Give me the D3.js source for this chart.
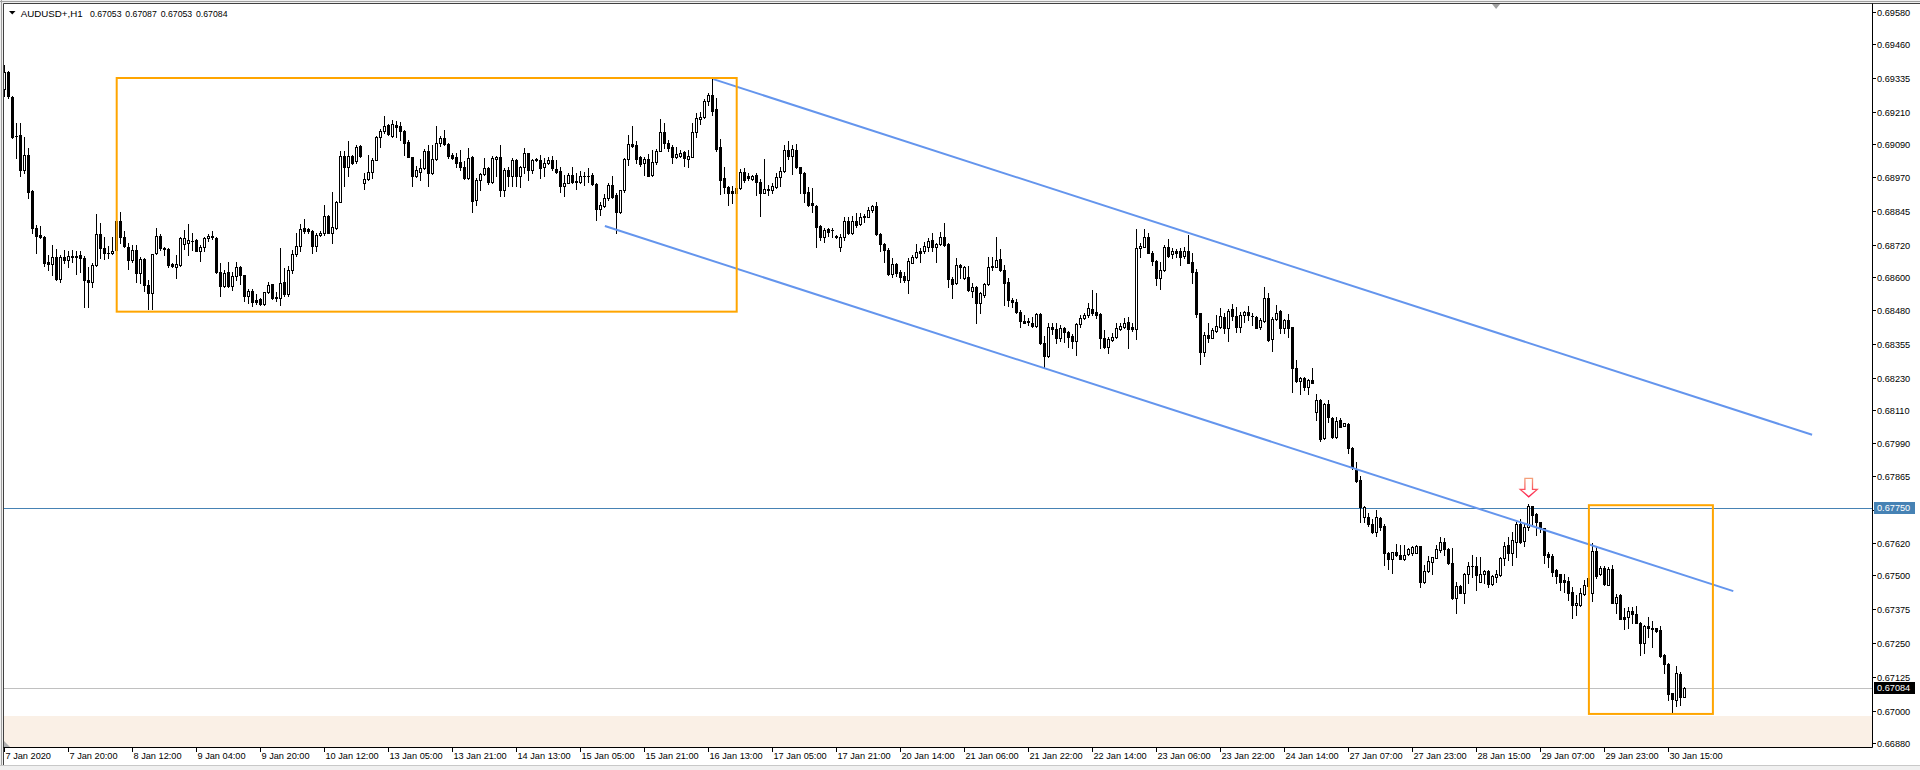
<!DOCTYPE html>
<html><head><meta charset="utf-8">
<script src="https://cdn.jsdelivr.net/npm/d3@7"></script>
<style>
html,body{margin:0;padding:0;background:#fff;overflow:hidden}
svg{display:block;font-family:"Liberation Sans",Arial,sans-serif}
</style></head><body>
<svg id="c" width="1920" height="770"></svg>
<script>
const symbolTitle = "AUDUSD+,H1";
const lastQuote = ["0.67053", "0.67087", "0.67053", "0.67084"];
const timeLabels = ["7 Jan 2020","7 Jan 20:00","8 Jan 12:00","9 Jan 04:00","9 Jan 20:00","10 Jan 12:00","13 Jan 05:00","13 Jan 21:00","14 Jan 13:00","15 Jan 05:00","15 Jan 21:00","16 Jan 13:00","17 Jan 05:00","17 Jan 21:00","20 Jan 14:00","21 Jan 06:00","21 Jan 22:00","22 Jan 14:00","23 Jan 06:00","23 Jan 22:00","24 Jan 14:00","27 Jan 07:00","27 Jan 23:00","28 Jan 15:00","29 Jan 07:00","29 Jan 23:00","30 Jan 15:00"];
const timeLabelStep = 16;
const priceTicks = ["0.69580","0.69460","0.69335","0.69210","0.69090","0.68970","0.68845","0.68720","0.68600","0.68480","0.68355","0.68230","0.68110","0.67990","0.67865","0.67740","0.67620","0.67500","0.67375","0.67250","0.67125","0.67000","0.66880"];

const openP = [
0.69294,0.69357,0.69264,0.69122,0.69125,0.68994,0.69052,0.68919,0.68783,0.68756,
0.68750,0.68657,0.68648,0.68674,0.68593,0.68674,0.68664,0.68679,0.68678,0.68683,
0.68670,0.68590,0.68584,0.68646,0.68759,0.68707,0.68690,0.68688,0.68701,0.68809,
0.68748,0.68711,0.68662,0.68701,0.68617,0.68667,0.68572,0.68541,0.68689,0.68753,
0.68708,0.68705,0.68648,0.68637,0.68646,0.68723,0.68726,0.68735,0.68738,0.68697,
0.68713,0.68744,0.68753,0.68744,0.68621,0.68566,0.68620,0.68569,0.68603,0.68637,
0.68608,0.68529,0.68551,0.68517,0.68519,0.68501,0.68545,0.68574,0.68528,0.68525,
0.68582,0.68539,0.68625,0.68685,0.68716,0.68781,0.68777,0.68771,0.68716,0.68756,
0.68765,0.68826,0.68765,0.68781,0.68879,0.69048,0.69006,0.69048,0.69027,0.69085,
0.68949,0.68962,0.68990,0.69033,0.69117,0.69138,0.69162,0.69122,0.69162,0.69158,
0.69140,0.69098,0.69043,0.68974,0.68990,0.69002,0.69066,0.68984,0.69035,0.69095,
0.69113,0.69091,0.69050,0.69043,0.69024,0.69008,0.68965,0.69045,0.68885,0.68959,
0.68981,0.69002,0.68953,0.69035,0.69045,0.68922,0.68996,0.68972,0.69033,0.68974,
0.69006,0.69058,0.68994,0.69037,0.69033,0.69006,0.69023,0.69033,0.69000,0.68992,
0.68937,0.68949,0.68978,0.68956,0.68953,0.68975,0.68973,0.68978,0.68944,0.68853,
0.68861,0.68892,0.68941,0.68904,0.68839,0.68920,0.69035,0.69091,0.69088,0.69043,
0.69021,0.69037,0.68978,0.69024,0.69067,0.69135,0.69095,0.69079,0.69045,0.69049,
0.69061,0.69038,0.69045,0.69135,0.69184,0.69190,0.69252,0.69273,0.69220,0.69080,
0.68965,0.68932,0.68917,0.68912,0.68928,0.68990,0.68972,0.68964,0.68978,0.68953,
0.68912,0.68925,0.68920,0.68932,0.68969,0.68992,0.69070,0.69049,0.69070,0.69005,
0.68986,0.68916,0.68875,0.68863,0.68789,0.68750,0.68777,0.68776,0.68751,0.68711,
0.68750,0.68808,0.68762,0.68808,0.68795,0.68826,0.68824,0.68848,0.68863,0.68758,
0.68722,0.68701,0.68611,0.68648,0.68620,0.68606,0.68588,0.68654,0.68674,0.68695,
0.68695,0.68713,0.68738,0.68711,0.68723,0.68747,0.68723,0.68592,0.68578,0.68645,
0.68596,0.68602,0.68551,0.68565,0.68504,0.68535,0.68575,0.68642,0.68639,0.68666,
0.68627,0.68584,0.68516,0.68510,0.68473,0.68439,0.68437,0.68433,0.68420,0.68465,
0.68356,0.68310,0.68418,0.68408,0.68377,0.68414,0.68399,0.68383,0.68366,0.68426,
0.68449,0.68461,0.68482,0.68471,0.68463,0.68375,0.68342,0.68369,0.68378,0.68409,
0.68418,0.68436,0.68415,0.68408,0.68707,0.68713,0.68747,0.68691,0.68661,0.68596,
0.68627,0.68711,0.68685,0.68698,0.68695,0.68680,0.68697,0.68658,0.68618,0.68467,
0.68326,0.68387,0.68377,0.68403,0.68415,0.68455,0.68412,0.68483,0.68457,0.68418,
0.68460,0.68473,0.68458,0.68455,0.68415,0.68440,0.68522,0.68371,0.68445,0.68476,
0.68412,0.68442,0.68415,0.68264,0.68219,0.68227,0.68196,0.68221,0.68104,0.68147,
0.68006,0.68132,0.68080,0.68009,0.68073,0.68052,0.68059,0.67969,0.67889,0.67852,
0.67717,0.67717,0.67690,0.67661,0.67711,0.67684,0.67581,0.67561,0.67588,0.67575,
0.67561,0.67578,0.67581,0.67584,0.67608,0.67474,0.67516,0.67551,0.67565,0.67594,
0.67624,0.67597,0.67547,0.67415,0.67461,0.67436,0.67505,0.67536,0.67535,0.67477,
0.67505,0.67517,0.67468,0.67495,0.67501,0.67563,0.67612,0.67584,0.67624,0.67690,
0.67627,0.67680,0.67756,0.67727,0.67698,0.67674,0.67579,0.67572,0.67520,0.67505,
0.67483,0.67479,0.67437,0.67391,0.67391,0.67431,0.67462,0.67434,0.67591,0.67504,
0.67529,0.67464,0.67522,0.67399,0.67428,0.67345,0.67345,0.67369,0.67356,0.67326,
0.67249,0.67313,0.67306,0.67305,0.67298,0.67205,0.67175,0.67065,0.67040,0.67136,
0.67053];

const highP = [
0.69384,0.69359,0.69267,0.69168,0.69168,0.69117,0.69076,0.68922,0.68793,0.68790,
0.68753,0.68683,0.68719,0.68703,0.68683,0.68701,0.68695,0.68701,0.68695,0.68697,
0.68680,0.68637,0.68652,0.68834,0.68799,0.68750,0.68716,0.68748,0.68812,0.68840,
0.68769,0.68726,0.68719,0.68719,0.68676,0.68670,0.68590,0.68686,0.68783,0.68760,
0.68713,0.68707,0.68652,0.68683,0.68750,0.68775,0.68797,0.68763,0.68740,0.68719,
0.68748,0.68760,0.68769,0.68747,0.68652,0.68625,0.68658,0.68621,0.68658,0.68642,
0.68610,0.68556,0.68556,0.68537,0.68523,0.68547,0.68582,0.68576,0.68545,0.68707,
0.68633,0.68640,0.68701,0.68763,0.68797,0.68814,0.68781,0.68775,0.68765,0.68769,
0.68867,0.68829,0.68916,0.68883,0.69064,0.69064,0.69101,0.69052,0.69088,0.69088,
0.68984,0.69052,0.69039,0.69122,0.69146,0.69193,0.69166,0.69181,0.69175,0.69174,
0.69144,0.69107,0.69045,0.69011,0.69035,0.69072,0.69088,0.69087,0.69158,0.69122,
0.69144,0.69095,0.69058,0.69058,0.69070,0.69027,0.69076,0.69048,0.68965,0.68986,
0.69039,0.69008,0.69048,0.69048,0.69088,0.69002,0.69008,0.69039,0.69035,0.69011,
0.69076,0.69060,0.69035,0.69040,0.69052,0.69039,0.69045,0.69048,0.69033,0.69008,
0.68978,0.68984,0.69008,0.68984,0.68992,0.68990,0.69002,0.68984,0.68949,0.68879,
0.68907,0.68949,0.68974,0.68910,0.68922,0.69039,0.69125,0.69158,0.69101,0.69048,
0.69045,0.69055,0.69070,0.69072,0.69183,0.69168,0.69107,0.69088,0.69080,0.69070,
0.69064,0.69070,0.69168,0.69205,0.69208,0.69257,0.69279,0.69331,0.69261,0.69109,
0.69008,0.68935,0.68935,0.68935,0.68999,0.69002,0.68986,0.68978,0.68984,0.68962,
0.69038,0.68941,0.68947,0.68986,0.69008,0.69088,0.69103,0.69088,0.69092,0.69008,
0.68990,0.68932,0.68928,0.68866,0.68793,0.68781,0.68781,0.68781,0.68755,0.68760,
0.68821,0.68821,0.68826,0.68836,0.68836,0.68832,0.68858,0.68867,0.68879,0.68762,
0.68725,0.68707,0.68670,0.68654,0.68627,0.68621,0.68670,0.68682,0.68723,0.68707,
0.68731,0.68744,0.68762,0.68728,0.68768,0.68799,0.68725,0.68602,0.68670,0.68648,
0.68642,0.68642,0.68578,0.68568,0.68547,0.68578,0.68676,0.68676,0.68747,0.68703,
0.68645,0.68596,0.68522,0.68519,0.68479,0.68461,0.68449,0.68455,0.68469,0.68469,
0.68383,0.68433,0.68433,0.68433,0.68424,0.68418,0.68403,0.68391,0.68433,0.68461,
0.68467,0.68506,0.68553,0.68541,0.68467,0.68405,0.68381,0.68393,0.68433,0.68433,
0.68449,0.68455,0.68430,0.68777,0.68725,0.68777,0.68762,0.68695,0.68664,0.68658,
0.68719,0.68740,0.68707,0.68703,0.68707,0.68713,0.68756,0.68691,0.68629,0.68469,
0.68399,0.68430,0.68412,0.68460,0.68485,0.68469,0.68482,0.68501,0.68489,0.68473,
0.68476,0.68494,0.68469,0.68457,0.68449,0.68563,0.68543,0.68452,0.68498,0.68479,
0.68445,0.68465,0.68418,0.68295,0.68233,0.68231,0.68223,0.68264,0.68168,0.68150,
0.68135,0.68147,0.68086,0.68083,0.68080,0.68064,0.68061,0.67973,0.67920,0.67867,
0.67756,0.67731,0.67707,0.67741,0.67717,0.67690,0.67588,0.67588,0.67616,0.67612,
0.67612,0.67600,0.67608,0.67612,0.67608,0.67538,0.67572,0.67569,0.67612,0.67643,
0.67637,0.67600,0.67600,0.67477,0.67464,0.67510,0.67551,0.67575,0.67569,0.67567,
0.67520,0.67520,0.67501,0.67520,0.67569,0.67624,0.67640,0.67661,0.67698,0.67707,
0.67690,0.67763,0.67756,0.67731,0.67698,0.67674,0.67588,0.67579,0.67522,0.67505,
0.67505,0.67495,0.67458,0.67428,0.67452,0.67483,0.67508,0.67618,0.67606,0.67535,
0.67535,0.67532,0.67538,0.67430,0.67431,0.67378,0.67382,0.67382,0.67387,0.67329,
0.67317,0.67345,0.67333,0.67305,0.67313,0.67210,0.67178,0.67065,0.67166,0.67145,
0.67087];

const lowP = [
0.69267,0.69261,0.69113,0.69039,0.68972,0.68984,0.68892,0.68765,0.68691,0.68744,
0.68640,0.68627,0.68609,0.68590,0.68582,0.68652,0.68637,0.68656,0.68612,0.68621,
0.68492,0.68492,0.68563,0.68642,0.68670,0.68667,0.68670,0.68685,0.68695,0.68726,
0.68711,0.68631,0.68658,0.68582,0.68578,0.68551,0.68482,0.68482,0.68686,0.68699,
0.68683,0.68637,0.68637,0.68596,0.68642,0.68703,0.68683,0.68701,0.68695,0.68660,
0.68695,0.68735,0.68742,0.68617,0.68531,0.68563,0.68563,0.68553,0.68590,0.68574,
0.68514,0.68504,0.68494,0.68502,0.68498,0.68498,0.68541,0.68519,0.68514,0.68498,
0.68529,0.68529,0.68617,0.68679,0.68695,0.68763,0.68763,0.68691,0.68695,0.68753,
0.68756,0.68763,0.68726,0.68779,0.68876,0.68937,0.68972,0.69018,0.69021,0.69045,
0.68925,0.68957,0.68965,0.69031,0.69082,0.69132,0.69125,0.69119,0.69119,0.69107,
0.69051,0.69042,0.68937,0.68969,0.68959,0.68999,0.68937,0.68981,0.69033,0.69085,
0.69088,0.69039,0.69035,0.69008,0.68996,0.68964,0.68962,0.68842,0.68867,0.68922,
0.68978,0.68944,0.68949,0.68972,0.68898,0.68898,0.68935,0.68937,0.68935,0.68932,
0.68984,0.68959,0.68986,0.69028,0.68965,0.68974,0.69018,0.68996,0.68984,0.68916,
0.68900,0.68947,0.68947,0.68925,0.68949,0.68941,0.68953,0.68941,0.68812,0.68830,
0.68858,0.68885,0.68892,0.68765,0.68836,0.68916,0.69015,0.69082,0.69021,0.69011,
0.68978,0.68972,0.68974,0.69018,0.69066,0.69076,0.69064,0.69021,0.69039,0.69045,
0.69011,0.69008,0.69043,0.69119,0.69166,0.69187,0.69236,0.69199,0.69067,0.68908,
0.68912,0.68867,0.68873,0.68910,0.68925,0.68953,0.68959,0.68959,0.68904,0.68826,
0.68910,0.68904,0.68910,0.68928,0.68937,0.68990,0.69035,0.68980,0.69002,0.68912,
0.68879,0.68863,0.68842,0.68713,0.68738,0.68731,0.68752,0.68750,0.68745,0.68695,
0.68738,0.68760,0.68760,0.68787,0.68793,0.68805,0.68821,0.68842,0.68756,0.68695,
0.68658,0.68608,0.68602,0.68605,0.68584,0.68584,0.68541,0.68651,0.68670,0.68658,
0.68691,0.68698,0.68695,0.68658,0.68719,0.68715,0.68565,0.68522,0.68575,0.68596,
0.68592,0.68551,0.68528,0.68430,0.68469,0.68528,0.68572,0.68627,0.68637,0.68624,
0.68498,0.68494,0.68489,0.68467,0.68418,0.68430,0.68424,0.68418,0.68418,0.68354,
0.68268,0.68305,0.68391,0.68356,0.68366,0.68362,0.68342,0.68338,0.68313,0.68418,
0.68445,0.68452,0.68461,0.68449,0.68338,0.68338,0.68319,0.68366,0.68375,0.68405,
0.68412,0.68338,0.68403,0.68371,0.68676,0.68711,0.68688,0.68645,0.68572,0.68556,
0.68624,0.68676,0.68670,0.68676,0.68645,0.68670,0.68651,0.68580,0.68455,0.68280,
0.68310,0.68362,0.68375,0.68399,0.68412,0.68396,0.68366,0.68442,0.68399,0.68399,
0.68436,0.68442,0.68424,0.68412,0.68408,0.68436,0.68366,0.68329,0.68442,0.68393,
0.68396,0.68381,0.68178,0.68215,0.68168,0.68184,0.68168,0.68209,0.68073,0.67997,
0.68002,0.68067,0.68006,0.68006,0.68046,0.68051,0.67950,0.67891,0.67846,0.67698,
0.67698,0.67682,0.67658,0.67647,0.67668,0.67538,0.67522,0.67508,0.67572,0.67559,
0.67557,0.67575,0.67575,0.67581,0.67458,0.67471,0.67514,0.67505,0.67563,0.67587,
0.67575,0.67542,0.67412,0.67360,0.67434,0.67397,0.67471,0.67495,0.67446,0.67476,
0.67473,0.67458,0.67464,0.67477,0.67499,0.67538,0.67557,0.67538,0.67569,0.67621,
0.67608,0.67667,0.67686,0.67649,0.67661,0.67544,0.67532,0.67498,0.67471,0.67446,
0.67440,0.67409,0.67342,0.67354,0.67387,0.67428,0.67456,0.67407,0.67489,0.67501,
0.67464,0.67463,0.67397,0.67362,0.67338,0.67301,0.67305,0.67323,0.67323,0.67206,
0.67215,0.67274,0.67237,0.67292,0.67200,0.67141,0.67040,0.66993,0.67018,0.67022,
0.67053];

const closeP = [
0.69357,0.69267,0.69117,0.69120,0.68994,0.69052,0.68916,0.68783,0.68753,0.68750,
0.68654,0.68648,0.68674,0.68593,0.68674,0.68662,0.68679,0.68674,0.68675,0.68670,
0.68588,0.68582,0.68646,0.68759,0.68707,0.68688,0.68688,0.68697,0.68809,0.68748,
0.68716,0.68662,0.68701,0.68617,0.68667,0.68572,0.68541,0.68685,0.68753,0.68707,
0.68706,0.68646,0.68640,0.68648,0.68744,0.68744,0.68738,0.68733,0.68697,0.68713,
0.68744,0.68753,0.68747,0.68621,0.68566,0.68617,0.68569,0.68603,0.68637,0.68608,
0.68529,0.68551,0.68507,0.68510,0.68501,0.68545,0.68571,0.68525,0.68525,0.68578,
0.68539,0.68625,0.68685,0.68716,0.68777,0.68769,0.68769,0.68716,0.68756,0.68765,
0.68826,0.68765,0.68785,0.68879,0.69048,0.69006,0.69048,0.69021,0.69082,0.69048,
0.68962,0.68990,0.69033,0.69117,0.69141,0.69159,0.69128,0.69166,0.69154,0.69138,
0.69097,0.69043,0.68974,0.68996,0.69002,0.69066,0.68986,0.69035,0.69095,0.69113,
0.69091,0.69048,0.69039,0.69021,0.69006,0.68965,0.69039,0.68883,0.68957,0.68980,
0.69002,0.68953,0.69039,0.69045,0.68920,0.68996,0.68972,0.69031,0.68974,0.69008,
0.69058,0.68994,0.69033,0.69034,0.69002,0.69023,0.69033,0.69002,0.68990,0.68937,
0.68947,0.68978,0.68953,0.68951,0.68975,0.68973,0.68975,0.68943,0.68853,0.68866,
0.68894,0.68941,0.68895,0.68839,0.68920,0.69037,0.69091,0.69085,0.69037,0.69018,
0.69035,0.68974,0.69024,0.69067,0.69135,0.69095,0.69075,0.69045,0.69055,0.69058,
0.69039,0.69048,0.69135,0.69187,0.69190,0.69252,0.69273,0.69215,0.69074,0.68959,
0.68932,0.68912,0.68910,0.68928,0.68989,0.68959,0.68965,0.68975,0.68953,0.68912,
0.68925,0.68920,0.68935,0.68971,0.68992,0.69070,0.69049,0.69072,0.69006,0.68984,
0.68912,0.68867,0.68867,0.68787,0.68750,0.68774,0.68768,0.68773,0.68749,0.68750,
0.68808,0.68762,0.68808,0.68793,0.68824,0.68821,0.68848,0.68863,0.68758,0.68722,
0.68701,0.68611,0.68648,0.68617,0.68602,0.68590,0.68660,0.68676,0.68692,0.68691,
0.68715,0.68734,0.68711,0.68723,0.68747,0.68719,0.68592,0.68575,0.68645,0.68637,
0.68637,0.68553,0.68563,0.68504,0.68541,0.68575,0.68639,0.68637,0.68664,0.68627,
0.68580,0.68516,0.68508,0.68471,0.68439,0.68433,0.68434,0.68420,0.68465,0.68356,
0.68310,0.68418,0.68408,0.68375,0.68412,0.68397,0.68378,0.68366,0.68426,0.68449,
0.68461,0.68485,0.68467,0.68461,0.68375,0.68342,0.68371,0.68381,0.68412,0.68420,
0.68430,0.68408,0.68408,0.68707,0.68715,0.68747,0.68691,0.68661,0.68596,0.68627,
0.68713,0.68679,0.68697,0.68688,0.68676,0.68697,0.68654,0.68618,0.68463,0.68326,
0.68387,0.68377,0.68405,0.68420,0.68457,0.68412,0.68477,0.68457,0.68418,0.68461,
0.68473,0.68460,0.68456,0.68414,0.68442,0.68522,0.68369,0.68445,0.68469,0.68412,
0.68442,0.68412,0.68264,0.68219,0.68227,0.68194,0.68221,0.68211,0.68147,0.68002,
0.68132,0.68083,0.68009,0.68070,0.68049,0.68061,0.67969,0.67899,0.67850,0.67754,
0.67751,0.67690,0.67661,0.67717,0.67680,0.67581,0.67561,0.67585,0.67575,0.67561,
0.67575,0.67596,0.67606,0.67608,0.67474,0.67516,0.67553,0.67567,0.67596,0.67624,
0.67597,0.67544,0.67415,0.67461,0.67436,0.67505,0.67535,0.67533,0.67501,0.67505,
0.67517,0.67468,0.67498,0.67505,0.67565,0.67608,0.67584,0.67631,0.67690,0.67624,
0.67680,0.67756,0.67723,0.67698,0.67674,0.67575,0.67569,0.67514,0.67499,0.67477,
0.67477,0.67434,0.67391,0.67399,0.67434,0.67464,0.67489,0.67591,0.67498,0.67529,
0.67468,0.67522,0.67399,0.67421,0.67339,0.67339,0.67369,0.67356,0.67326,0.67249,
0.67313,0.67305,0.67303,0.67296,0.67203,0.67175,0.67061,0.67043,0.67139,0.67050,
0.67084];

// drawn objects (bar index, price)
const channelUpper = [[177.2, 0.69331], [451.9, 0.68019]];
const channelLower = [[150.1, 0.68789], [432.2, 0.67442]];
const boxA = [[28.05, 0.69335], [183.05, 0.68473]];
const boxB = [[396.1, 0.67759], [427.1, 0.66989]];
const levelPrice = [0.67750];
const bidPrice = [0.67084];
const bandTopPrice = [0.66981];
const arrowPoint = [381.05, 0.67790];
const shiftMarkerBar = [372.9];

const svg = d3.select("#c");
const W = 1920, H = 770;
const plot = {l: 4, t: 4, r: 1872, b: 747};

const x = d3.scaleLinear().domain([0, 420]).range([4.5, 1684.5]);
const y = d3.scaleLinear().domain([0.66867, 0.69608]).range([plot.b, plot.t]);

// window background / frame
svg.append("rect").attr("x",0).attr("y",0).attr("width",W).attr("height",H).attr("fill","#f0f0f0");
svg.append("rect").attr("x",plot.l).attr("y",plot.t).attr("width",W-plot.l).attr("height",766-plot.t).attr("fill","#ffffff");
svg.append("line").attr("x1",0).attr("x2",W).attr("y1",1.5).attr("y2",1.5).attr("stroke","#a0a0a0");
svg.append("line").attr("x1",1.5).attr("x2",1.5).attr("y1",0).attr("y2",H).attr("stroke","#a0a0a0");
svg.append("line").attr("x1",plot.l-0.5).attr("x2",W).attr("y1",plot.t-0.5).attr("y2",plot.t-0.5).attr("stroke","#404040");
svg.append("line").attr("x1",plot.l-0.5).attr("x2",plot.l-0.5).attr("y1",plot.t-0.5).attr("y2",766).attr("stroke","#404040");

const defs = svg.append("defs");
defs.append("clipPath").attr("id","plotclip").append("rect")
  .attr("x",plot.l).attr("y",plot.t).attr("width",plot.r-plot.l).attr("height",plot.b-plot.t);
const g = svg.append("g").attr("clip-path","url(#plotclip)");

// linen band
const bandY = Math.round(y(bandTopPrice[0]));
g.append("rect").attr("x",plot.l).attr("y",bandY).attr("width",plot.r-plot.l).attr("height",plot.b-bandY).attr("fill","#faf0e6");

// horizontal lines
g.append("line").attr("x1",plot.l).attr("x2",plot.r)
  .attr("y1",Math.round(y(levelPrice[0]))+0.5).attr("y2",Math.round(y(levelPrice[0]))+0.5)
  .attr("stroke","#4682b4").attr("stroke-width",1);
g.append("line").attr("x1",plot.l).attr("x2",plot.r)
  .attr("y1",Math.round(y(bidPrice[0]))+0.5).attr("y2",Math.round(y(bidPrice[0]))+0.5)
  .attr("stroke","#c0c0c0").attr("stroke-width",1);

// candles
const idx = d3.range(openP.length);
const cg = g.append("g").attr("shape-rendering","crispEdges");
idx.forEach(i => {
  const o = openP[i], c = closeP[i];
  const hi = Math.max(highP[i], o, c), lo = Math.min(lowP[i], o, c);
  const cx = Math.floor(x(i));
  const yH = Math.round(y(hi)), yL = Math.round(y(lo));
  const yT = Math.round(y(Math.max(o, c))), yB = Math.round(y(Math.min(o, c)));
  cg.append("rect").attr("x",cx).attr("y",yH).attr("width",1).attr("height",yL-yH+1).attr("fill","#000");
  cg.append("rect").attr("x",cx-1).attr("y",yT).attr("width",3).attr("height",yB-yT+1).attr("fill","#000");
  if (c > o && yB - yT >= 2) {
    cg.append("rect").attr("x",cx).attr("y",yT+1).attr("width",1).attr("height",yB-yT-1).attr("fill","#fff");
  }
});

// channel lines
const lineGen = d3.line().x(d => x(d[0])).y(d => y(d[1]));
[channelUpper, channelLower].forEach(pts => {
  g.append("path").attr("d", lineGen(pts)).attr("fill","none")
    .attr("stroke","#6495ed").attr("stroke-width",2);
});

// orange boxes
[boxA, boxB].forEach(b => {
  const x0 = x(b[0][0]), x1 = x(b[1][0]), y0 = y(b[0][1]), y1 = y(b[1][1]);
  g.append("rect").attr("x",x0).attr("y",y0).attr("width",x1-x0).attr("height",y1-y0)
    .attr("fill","none").attr("stroke","#ffa500").attr("stroke-width",2);
});

// arrow down marker
const grad = defs.append("linearGradient").attr("id","arrg").attr("x1",0).attr("y1",0).attr("x2",0).attr("y2",1);
grad.append("stop").attr("offset","0%").attr("stop-color","#f4a07a");
grad.append("stop").attr("offset","100%").attr("stop-color","#ff1f4e");
{
  const ax = x(arrowPoint[0]), ay = y(arrowPoint[1]);
  const p = `M${ax-3.8},${ay-18.4} L${ax+3.8},${ay-18.4} L${ax+3.8},${ay-7.4} L${ax+8.5},${ay-7.4} L${ax},${ay} L${ax-8.5},${ay-7.4} L${ax-3.8},${ay-7.4} Z`;
  svg.append("path").attr("d",p).attr("fill","#fff").attr("stroke","url(#arrg)").attr("stroke-width",1.3);
}

// right price axis
const ax = svg.append("g");
ax.append("line").attr("x1",plot.r+0.5).attr("x2",plot.r+0.5).attr("y1",plot.t-0.5).attr("y2",plot.b+0.5).attr("stroke","#000");
priceTicks.forEach(t => {
  const yy = Math.round(y(+t)) + 0.5;
  ax.append("line").attr("x1",plot.r).attr("x2",plot.r+4).attr("y1",yy).attr("y2",yy).attr("stroke","#000");
  ax.append("text").attr("x",plot.r+5).attr("y",yy+3.3).attr("font-size","9.2px").attr("fill","#000").text(t);
});
// level label boxes
function priceBox(p, bg, label) {
  const yy = Math.round(y(p));
  ax.append("rect").attr("x",plot.r+2).attr("y",yy-6).attr("width",41).attr("height",12).attr("fill",bg);
  ax.append("text").attr("x",plot.r+5).attr("y",yy+3.3).attr("font-size","9.2px").attr("fill","#fff").text(label);
}
priceBox(levelPrice[0], "#4682b4", levelPrice[0].toFixed(5));
priceBox(bidPrice[0], "#000000", bidPrice[0].toFixed(5));

// bottom time axis
const bx = svg.append("g");
bx.append("line").attr("x1",plot.l-0.5).attr("x2",plot.r+0.5).attr("y1",plot.b+0.5).attr("y2",plot.b+0.5).attr("stroke","#000");
timeLabels.forEach((lab, k) => {
  const xx = Math.floor(x(k * timeLabelStep)) + 0.5;
  bx.append("line").attr("x1",xx).attr("x2",xx).attr("y1",plot.b).attr("y2",plot.b+5).attr("stroke","#000");
  bx.append("text").attr("x",xx+1).attr("y",plot.b+12).attr("font-size","9.2px").attr("fill","#000").text(lab);
});
// bottom strip
svg.append("rect").attr("x",0).attr("y",766).attr("width",W).attr("height",4).attr("fill","#f0f0f0");
svg.append("line").attr("x1",0).attr("x2",W).attr("y1",765.5).attr("y2",765.5).attr("stroke","#c8c8c8");

// small markers
svg.append("path").attr("d",`M${plot.l},${plot.b-6} L${plot.l},${plot.b} L${plot.l+6},${plot.b} Z`).attr("fill","#b0b0b0");
{
  const sx = x(shiftMarkerBar[0]);
  svg.append("path").attr("d",`M${sx-4},${plot.t} L${sx+4},${plot.t} L${sx},${plot.t+5} Z`).attr("fill","#a0a0a0");
}

// header
svg.append("path").attr("d","M9,11 L15.5,11 L12.25,14.5 Z").attr("fill","#000");
svg.append("text").attr("x",20.7).attr("y",16.5).attr("font-size","9.6px").attr("fill","#000")
  .attr("textLength",62).attr("lengthAdjust","spacingAndGlyphs").text(symbolTitle);
const quoteX = [90, 125.3, 160.7, 196];
lastQuote.forEach((q, k) => {
  svg.append("text").attr("x",quoteX[k]).attr("y",16.5).attr("font-size","9.2px").attr("fill","#000")
    .attr("textLength",31.5).attr("lengthAdjust","spacingAndGlyphs").text(q);
});
</script>
</body></html>
